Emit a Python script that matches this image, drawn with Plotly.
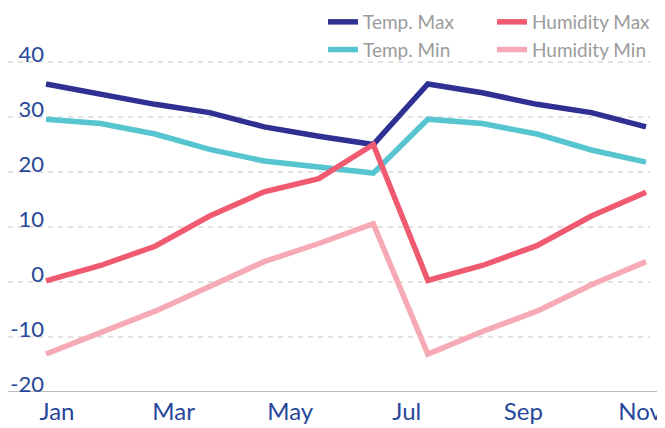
import plotly.graph_objects as go

months = ["Jan", "Feb", "Mar", "Apr", "May", "Jun", "Jul", "Aug", "Sep", "Oct", "Nov", "Dec"]
temp_max = [36.0, 34.2, 32.3, 30.8, 28.2, 26.5, 25.0, 36.0, 34.4, 32.3, 30.8, 28.2]
temp_min = [29.6, 28.8, 26.9, 24.1, 22.0, 20.9, 19.8, 29.6, 28.8, 26.9, 24.0, 21.8]
hum_max = [0.2, 3.0, 6.5, 12.0, 16.4, 18.8, 25.0, 0.3, 3.0, 6.6, 12.0, 16.3]
hum_min = [-13.1, -9.3, -5.3, -0.8, 3.7, 7.0, 10.6, -13.1, -9.0, -5.3, -0.5, 3.7]
x_labels = ["Jan", "Mar", "May", "Jul", "Sep", "Nov"]
y_ticks = [-20, -10, 0, 10, 20, 30, 40]
y_tick_text = ["-20", "-10", "0", "10", "20", "30", "40"]

series = [
    ("Temp. Max", temp_max, "#2E3192", "legend"),
    ("Temp. Min", temp_min, "#56C5D0", "legend"),
    ("Humidity Max", hum_max, "#F05A70", "legend2"),
    ("Humidity Min", hum_min, "#F6AAB5", "legend2"),
]

FONT = "Lato"
BLUE = "#26479A"

fig = go.Figure()
for name, vals, color, lg in series:
    fig.add_trace(go.Scatter(
        x=months, y=vals, name=name, mode="lines",
        line=dict(color=color, width=5.5),
        legend=lg, legendgroup=name,
        hoverinfo="skip",
    ))

# invisible carrier so the label axis is drawn
fig.add_trace(go.Scatter(
    x=x_labels, y=[None] * len(x_labels), xaxis="x2", yaxis="y",
    mode="lines", showlegend=False, hoverinfo="skip",
))

# the page body adds an 8px margin, so the figure is 8px smaller
fig.update_layout(
    width=657, height=420,
    margin=dict(l=0, r=15, t=52, b=36, autoexpand=False),
    paper_bgcolor="white", plot_bgcolor="white",
    font=dict(family=FONT),
    showlegend=True,
    xaxis=dict(
        type="category", range=[-0.697, 11.073],
        showgrid=False, showticklabels=False, zeroline=False, showline=False,
        automargin=False,
    ),
    xaxis2=dict(
        overlaying="x", anchor="y", side="bottom", type="category",
        range=[-0.42, 5.086],
        showgrid=False, zeroline=False, showline=False, ticks="",
        tickfont=dict(family=FONT, size=24, color=BLUE),
        ticklabelstandoff=3, automargin=False,
    ),
    yaxis=dict(
        range=[-20, 40.36], tickvals=y_ticks, ticktext=y_tick_text,
        showgrid=True, gridcolor="#E2E2E2", griddash="5px,5px", gridwidth=1.5,
        zeroline=False, showline=False, ticks="",
        tickfont=dict(family=FONT, size=22, color=BLUE),
        ticklabelstandoff=-37, ticklabelshift=-8, automargin=False,
    ),
    legend=dict(
        x=0.4907, y=1.1717, xanchor="left", yanchor="top",
        orientation="v", font=dict(family=FONT, size=19, color="#9B9B9B"),
        tracegroupgap=0, bgcolor="rgba(0,0,0,0)",
    ),
    legend2=dict(
        x=0.7539, y=1.1717, xanchor="left", yanchor="top",
        orientation="v", font=dict(family=FONT, size=19, color="#9B9B9B"),
        tracegroupgap=0, bgcolor="rgba(0,0,0,0)",
    ),
    shapes=[dict(
        type="line", xref="paper", yref="y", x0=0, x1=1.0234, y0=-20, y1=-20,
        line=dict(color="#BDBDBD", width=2), layer="below",
    )],
)

fig.write_html("out.html")
